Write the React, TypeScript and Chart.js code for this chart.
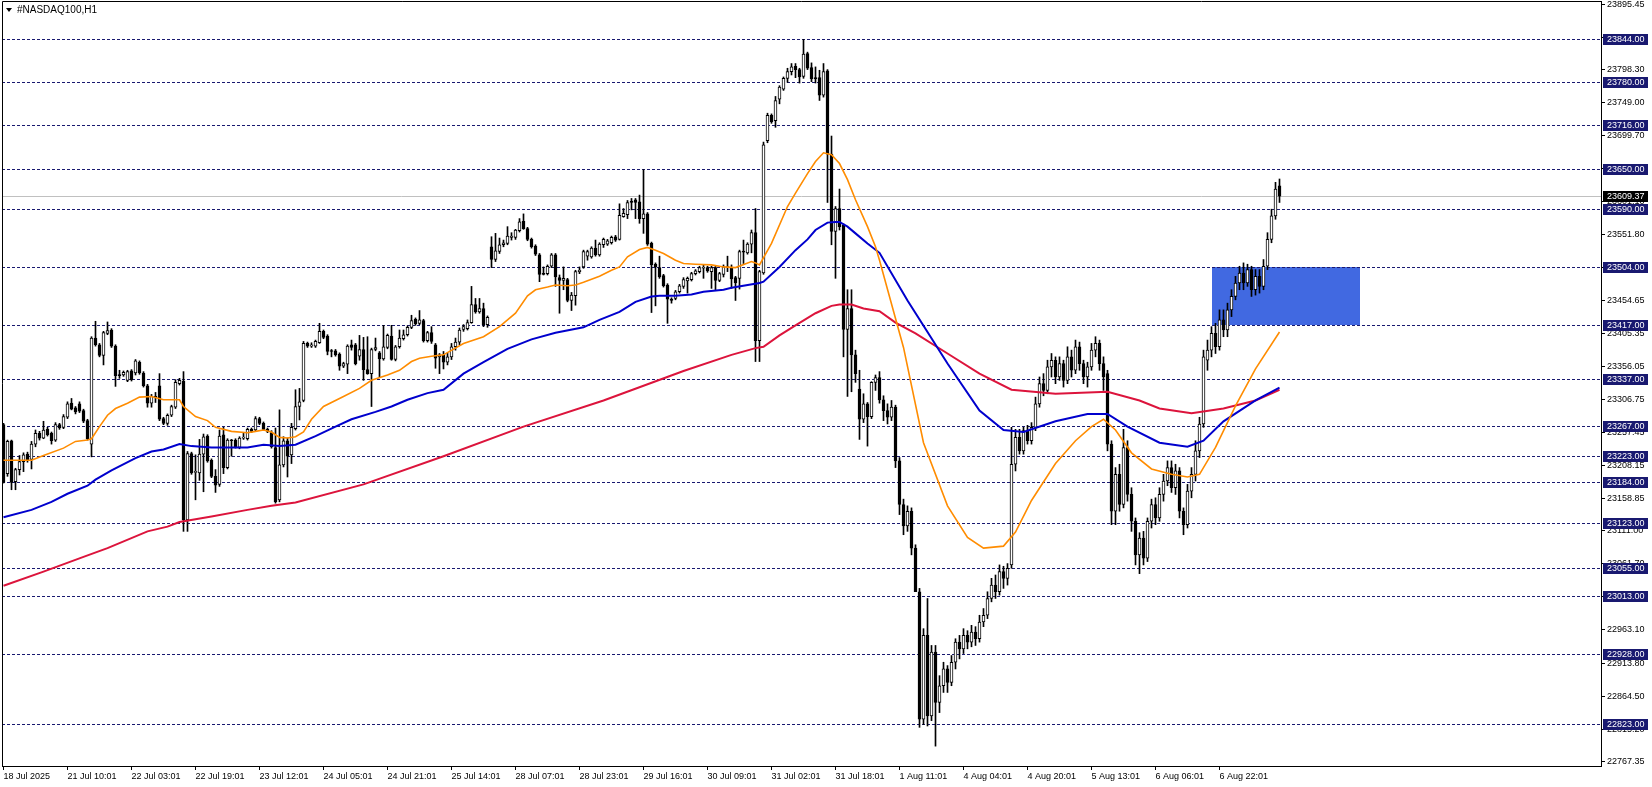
import React, { useEffect, useRef } from 'react';
import { Chart, registerables } from 'chart.js';
Chart.register(...registerables);

// ---------- DATA ----------
const opens = [
23269,23196,23245,23184,23202,23214,23225,23217,23240,23256,
23249,23262,23256,23246,23269,23265,23280,23301,23294,23300,
23290,23275,23240,23398,23388,23372,23405,23410,23386,23343,
23343,23335,23349,23346,23362,23346,23327,23301,23311,23327,
23278,23271,23283,23295,23330,23334,23127,23226,23198,23197,
23225,23252,23216,23192,23180,23254,23205,23246,23246,23235,
23249,23248,23262,23261,23278,23271,23262,23257,23235,23157,
23209,23245,23224,23263,23296,23305,23390,23386,23386,23391,
23408,23401,23379,23379,23374,23356,23359,23388,23388,23371,
23381,23351,23345,23381,23376,23367,23384,23401,23366,23385,
23397,23403,23414,23426,23420,23424,23394,23406,23388,23370,
23373,23362,23370,23385,23392,23411,23412,23421,23448,23437,
23442,23418,23534,23515,23527,23537,23539,23548,23548,23558,
23572,23561,23545,23535,23522,23494,23494,23505,23522,23488,
23484,23485,23454,23461,23497,23504,23520,23519,23532,23522,
23537,23538,23540,23549,23545,23579,23582,23602,23604,23601,
23576,23583,23539,23508,23503,23491,23477,23456,23457,23467,
23475,23483,23485,23494,23497,23502,23503,23497,23503,23484,
23493,23504,23503,23488,23487,23527,23525,23538,23555,23394,
23495,23692,23730,23722,23754,23769,23785,23795,23803,23798,
23788,23822,23801,23786,23786,23760,23796,23672,23557,23591,
23566,23411,23442,23373,23322,23277,23300,23281,23332,23339,
23306,23290,23280,23295,23215,23150,23118,23140,23085,23020,
22830,22955,22835,22930,22855,22880,22905,22885,22915,22945,
22935,22955,22945,22960,22950,22975,22985,23010,23030,23020,
23050,23040,23060,23210,23250,23230,23260,23245,23265,23300,
23330,23320,23355,23365,23340,23360,23335,23370,23350,23385,
23360,23340,23355,23380,23390,23360,23345,23240,23140,23195,
23150,23235,23165,23125,23075,23100,23070,23125,23150,23130,
23165,23185,23205,23175,23200,23140,23120,23170,23195,23230,
23270,23365,23380,23405,23385,23425,23410,23440,23460,23480,
23495,23480,23500,23470,23490,23475,23505,23545,23580,23625
];
const highs = [
23271,23246,23246,23204,23223,23227,23228,23244,23261,23259,
23274,23265,23258,23272,23271,23284,23303,23308,23296,23303,
23292,23277,23400,23423,23390,23408,23422,23412,23388,23350,
23349,23350,23351,23366,23364,23348,23329,23314,23317,23345,
23280,23285,23298,23336,23338,23348,23229,23228,23224,23247,
23255,23254,23218,23202,23261,23265,23248,23247,23248,23251,
23256,23264,23264,23281,23280,23273,23264,23260,23264,23291,
23251,23249,23271,23321,23323,23393,23392,23391,23395,23420,
23410,23403,23381,23381,23376,23362,23388,23395,23390,23402,
23399,23400,23383,23398,23378,23417,23404,23417,23387,23410,
23410,23416,23432,23428,23439,23426,23408,23415,23390,23375,
23378,23376,23390,23398,23413,23418,23425,23475,23457,23457,
23450,23431,23549,23554,23547,23544,23564,23555,23560,23576,
23583,23563,23547,23537,23524,23504,23507,23524,23524,23492,
23504,23487,23466,23499,23504,23529,23529,23534,23544,23540,
23547,23545,23550,23551,23598,23591,23603,23606,23606,23611,
23649,23585,23541,23510,23520,23493,23479,23458,23469,23478,
23488,23489,23496,23500,23505,23507,23505,23505,23505,23496,
23507,23520,23507,23490,23529,23544,23540,23559,23591,23499,
23690,23733,23732,23758,23774,23787,23800,23807,23807,23800,
23843,23824,23808,23802,23797,23807,23798,23699,23594,23620,
23568,23470,23470,23380,23350,23315,23302,23333,23343,23348,
23312,23300,23305,23298,23220,23158,23148,23145,23090,23025,
22965,23010,22940,22940,22895,22915,22910,22925,22950,22955,
22965,22962,22970,22968,22985,22995,23020,23040,23045,23060,
23058,23062,23265,23262,23262,23265,23268,23272,23310,23340,
23345,23365,23375,23370,23370,23365,23385,23380,23395,23392,
23365,23362,23390,23400,23395,23370,23350,23245,23205,23210,
23262,23245,23175,23130,23108,23110,23130,23158,23160,23175,
23195,23215,23215,23210,23205,23145,23180,23205,23245,23280,
23380,23395,23415,23420,23440,23440,23450,23470,23490,23505,
23510,23508,23505,23500,23500,23515,23555,23590,23630,23635
];
const lows = [
23182,23192,23172,23172,23194,23199,23213,23203,23236,23246,
23248,23252,23240,23244,23262,23263,23278,23291,23285,23287,
23272,23246,23221,23386,23370,23358,23403,23384,23326,23338,
23341,23333,23334,23343,23344,23325,23295,23295,23302,23275,
23269,23268,23281,23293,23328,23110,23110,23195,23157,23186,
23169,23213,23190,23168,23177,23196,23203,23222,23234,23233,
23247,23246,23257,23259,23269,23260,23257,23234,23152,23154,
23206,23191,23211,23261,23276,23303,23384,23384,23384,23390,
23397,23373,23370,23371,23350,23354,23345,23380,23358,23365,
23335,23344,23296,23379,23340,23365,23382,23365,23364,23383,
23395,23401,23412,23417,23418,23392,23392,23390,23353,23345,
23352,23358,23366,23380,23388,23408,23410,23420,23435,23435,
23415,23414,23503,23512,23524,23534,23537,23544,23545,23556,
23560,23543,23532,23521,23482,23492,23492,23503,23475,23435,
23470,23452,23439,23447,23494,23502,23514,23517,23520,23520,
23533,23536,23538,23542,23544,23578,23576,23589,23576,23569,
23554,23536,23436,23446,23487,23474,23420,23450,23455,23465,
23472,23465,23483,23492,23495,23487,23496,23472,23470,23482,
23489,23497,23472,23454,23471,23509,23523,23525,23363,23363,
23493,23689,23718,23712,23747,23767,23779,23790,23786,23778,
23785,23798,23780,23778,23752,23757,23600,23537,23487,23559,
23370,23311,23318,23332,23247,23272,23237,23278,23320,23301,
23275,23270,23275,23205,23135,23105,23110,23075,23040,22818,
22822,22820,22828,22790,22840,22870,22870,22880,22905,22920,
22928,22935,22938,22940,22945,22968,22980,23005,23010,23015,
23025,23030,23055,23200,23225,23225,23240,23240,23260,23295,
23312,23315,23340,23330,23335,23325,23330,23340,23345,23350,
23330,23325,23350,23370,23350,23320,23230,23120,23120,23140,
23145,23155,23110,23060,23047,23060,23065,23115,23120,23125,
23155,23178,23168,23165,23130,23105,23115,23160,23185,23220,
23265,23350,23370,23375,23380,23400,23400,23430,23455,23470,
23470,23475,23460,23462,23465,23470,23500,23540,23575,23600
];
const closes = [
23183,23244,23183,23202,23214,23224,23216,23240,23256,23249,
23261,23254,23245,23269,23264,23281,23300,23292,23288,23289,
23274,23248,23398,23388,23372,23406,23409,23386,23342,23342,
23347,23348,23336,23364,23346,23327,23301,23311,23309,23277,
23271,23283,23296,23332,23335,23127,23226,23197,23198,23225,
23251,23215,23192,23179,23252,23205,23246,23245,23236,23249,
23250,23262,23259,23278,23271,23262,23259,23236,23154,23209,
23245,23222,23265,23296,23303,23390,23386,23388,23393,23408,
23399,23378,23378,23373,23356,23360,23386,23384,23360,23381,
23351,23345,23381,23384,23367,23385,23402,23366,23385,23398,
23403,23414,23424,23419,23425,23394,23406,23393,23368,23373,
23362,23370,23385,23392,23410,23415,23421,23448,23437,23442,
23418,23429,23515,23528,23537,23540,23550,23550,23559,23571,
23561,23545,23534,23523,23493,23493,23505,23522,23489,23484,
23487,23454,23462,23497,23499,23527,23527,23532,23522,23538,
23545,23543,23548,23544,23581,23584,23600,23600,23600,23576,
23583,23538,23507,23504,23489,23476,23456,23454,23467,23476,
23485,23487,23494,23498,23503,23502,23498,23503,23484,23494,
23504,23503,23486,23480,23527,23526,23538,23555,23394,23497,
23686,23730,23720,23752,23772,23785,23795,23802,23798,23787,
23821,23800,23784,23784,23760,23795,23672,23557,23591,23564,
23411,23442,23373,23345,23277,23300,23281,23332,23339,23306,
23290,23280,23295,23215,23150,23118,23140,23085,23020,22830,
22955,22835,22930,22855,22880,22905,22885,22915,22945,22935,
22955,22945,22960,22950,22975,22985,23010,23030,23020,23050,
23040,23055,23210,23250,23230,23260,23245,23265,23300,23330,
23320,23355,23365,23340,23360,23335,23370,23350,23385,23360,
23340,23355,23380,23390,23360,23340,23240,23140,23195,23150,
23235,23165,23125,23075,23100,23070,23125,23150,23130,23165,
23185,23205,23175,23200,23140,23120,23170,23195,23230,23270,
23370,23380,23405,23385,23425,23410,23440,23460,23480,23495,
23480,23500,23470,23490,23475,23505,23545,23580,23620,23609.37
];

const maFastBars = [0,7,10,15,18,21,22,24,26,28,31,34,37,40,44,45,48,51,53,57,61,63,65,67,69,71,73,75,77,80,85,89,92,96,99,102,104,107,110,115,120,124,128,131,133,136,138,141,143,145,149,152,154,156,159,161,163,165,168,170,173,177,180,183,187,188,189,192,196,198,201,203,205,207,209,211,213,216,218,219,225,230,236,241,245,250,253,257,263,268,272,275,278,282,287,292,296,299,303,308,313,319];
const maFastVals = [23216,23216,23223,23234,23244,23246,23248,23266,23283,23293,23301,23310,23311,23306,23306,23296,23281,23275,23265,23259,23257,23259,23261,23258,23250,23249,23251,23258,23277,23296,23311,23323,23335,23343,23350,23363,23368,23371,23373,23390,23400,23415,23435,23461,23470,23474,23477,23476,23477,23481,23490,23499,23504,23519,23530,23533,23529,23524,23514,23509,23508,23507,23504,23503,23512,23510,23507,23539,23594,23614,23643,23661,23674,23671,23658,23634,23604,23564,23534,23514,23384,23242,23148,23101,23085,23088,23109,23156,23211,23245,23266,23277,23261,23227,23203,23195,23191,23195,23235,23297,23352,23407];
const maMidBars = [0,7,12,16,21,23,27,33,37,40,44,47,52,61,65,69,73,78,83,87,93,97,101,106,110,115,120,126,132,138,145,149,154,158,162,164,168,172,175,180,182,189,190,194,198,201,203,206,208,209,211,213,216,219,226,236,244,250,255,263,271,276,281,289,296,300,305,313,319];
const maMidVals = [23131,23142,23154,23166,23178,23187,23201,23219,23229,23232,23240,23237,23235,23235,23239,23237,23239,23252,23266,23277,23288,23296,23306,23316,23321,23345,23362,23382,23396,23406,23414,23425,23437,23452,23460,23461,23461,23463,23467,23470,23473,23480,23482,23504,23529,23545,23559,23570,23571,23571,23564,23554,23539,23525,23454,23360,23290,23261,23258,23274,23285,23285,23266,23242,23236,23245,23274,23305,23324];
const maSlowBars = [0,10,20,26,36,41,44,52,61,67,73,90,110,130,150,170,182,188,190,194,198,203,207,209,212,215,219,223,228,236,244,252,263,276,284,289,297,305,313,319];
const maSlowVals = [23029,23050,23072,23085,23110,23117,23124,23132,23142,23148,23153,23180,23222,23266,23305,23349,23373,23383,23385,23402,23417,23435,23446,23448,23448,23442,23438,23421,23405,23375,23345,23321,23315,23318,23305,23293,23286,23293,23305,23321];

const levels = [23844,23780,23716,23650,23590,23504,23417,23337,23267,23223,23184,23123,23055,23013,22928,22823];
const currentPrice = 23609.37;
const zoneBars = [302, 339];
const zonePrices = [23417, 23504];

const yTickValues = [23895.45,23846.15,23798.30,23749.00,23699.70,23650.40,23601.10,23551.80,23502.50,23454.65,23405.35,23356.05,23306.75,23257.45,23208.15,23158.85,23111.00,23061.70,23012.40,22963.10,22913.80,22864.50,22815.20,22767.35];
const xTickBars = [0,16,32,48,64,80,96,112,128,144,160,176,192,208,224,240,256,272,288,304];
const xTickLabels = ['18 Jul 2025','21 Jul 10:01','22 Jul 03:01','22 Jul 19:01','23 Jul 12:01','24 Jul 05:01','24 Jul 21:01','25 Jul 14:01','28 Jul 07:01','28 Jul 23:01','29 Jul 16:01','30 Jul 09:01','31 Jul 02:01','31 Jul 18:01','1 Aug 11:01','4 Aug 04:01','4 Aug 20:01','5 Aug 13:01','6 Aug 06:01','6 Aug 22:01'];
const symbolTitle = '#NASDAQ100,H1';

// ---------- CHART ----------
const FONT = "'Liberation Sans', Arial, sans-serif";
const NAVY = '#191970';

const overlay = {
  id: 'overlay',
  beforeDatasetsDraw(chart: any) {
    const { ctx, chartArea: a, scales } = chart;
    const x = scales.x, y = scales.y;
    ctx.save();
    const zx0 = x.getPixelForValue(zoneBars[0]);
    const zx1 = x.getPixelForValue(zoneBars[1]);
    const zy0 = y.getPixelForValue(zonePrices[1]);
    const zy1 = y.getPixelForValue(zonePrices[0]);
    ctx.fillStyle = '#4169E1';
    ctx.fillRect(Math.round(zx0), Math.round(zy0), Math.round(zx1 - zx0), Math.round(zy1 - zy0));
    ctx.strokeStyle = '#C0C0C0';
    ctx.lineWidth = 1;
    const cp = Math.round(y.getPixelForValue(currentPrice)) + 0.5;
    ctx.beginPath(); ctx.moveTo(a.left, cp); ctx.lineTo(a.right, cp); ctx.stroke();
    ctx.strokeStyle = NAVY;
    ctx.setLineDash([3, 2]);
    for (const l of levels) {
      const py = Math.round(y.getPixelForValue(l)) + 0.5;
      ctx.beginPath(); ctx.moveTo(a.left, py); ctx.lineTo(a.right, py); ctx.stroke();
    }
    ctx.restore();
  },
  afterDraw(chart: any) {
    const { ctx, chartArea: a, scales } = chart;
    const y = scales.y;
    ctx.save();
    ctx.strokeStyle = '#000';
    ctx.lineWidth = 1;
    ctx.beginPath();
    ctx.moveTo(a.left + 0.5, a.bottom); ctx.lineTo(a.left + 0.5, a.top + 0.5); ctx.lineTo(a.right, a.top + 0.5);
    ctx.stroke();
    ctx.font = `9px ${FONT}`;
    ctx.textBaseline = 'middle';
    ctx.textAlign = 'left';
    const boxL = a.right + 2, boxW = 45, boxH = 11;
    for (const l of levels) {
      const py = Math.round(y.getPixelForValue(l));
      ctx.fillStyle = NAVY;
      ctx.fillRect(boxL, py - 5, boxW, boxH);
      ctx.fillStyle = '#fff';
      ctx.fillText(l.toFixed(2), boxL + 4, py + 0.5);
    }
    const cp = Math.round(y.getPixelForValue(currentPrice));
    ctx.fillStyle = '#000';
    ctx.fillRect(boxL, cp - 5, boxW, boxH);
    ctx.fillStyle = '#fff';
    ctx.fillText(currentPrice.toFixed(2), boxL + 4, cp + 0.5);
    ctx.fillStyle = '#000';
    ctx.beginPath();
    ctx.moveTo(6, 8); ctx.lineTo(12, 8); ctx.lineTo(9, 12); ctx.closePath(); ctx.fill();
    ctx.font = `10px ${FONT}`;
    ctx.fillText(symbolTitle, 17, 10.5);
    ctx.restore();
  },
};

export default function App() {
  const ref = useRef<HTMLCanvasElement>(null);
  useEffect(() => {
    const idx = opens.map((_, i) => i);
    const bodies = idx.map((i) => ({ x: i, y: [opens[i], closes[i]] }));
    const wicks = idx.map((i) => ({ x: i, y: [lows[i], highs[i]] }));
    const isUp = (i: number) => closes[i] >= opens[i];
    const line = (bars: number[], vals: number[]) => bars.map((b, k) => ({ x: b, y: vals[k] }));

    const chart = new Chart(ref.current as HTMLCanvasElement, {
      type: 'bar',
      data: {
        datasets: [
          {
            type: 'line', data: line(maFastBars, maFastVals), borderColor: '#FF8C00', borderWidth: 1.6,
            pointRadius: 0, fill: false, tension: 0, order: 0,
          } as any,
          {
            type: 'line', data: line(maMidBars, maMidVals), borderColor: '#0000CD', borderWidth: 2,
            pointRadius: 0, fill: false, tension: 0, order: 0,
          } as any,
          {
            type: 'line', data: line(maSlowBars, maSlowVals), borderColor: '#DC143C', borderWidth: 2,
            pointRadius: 0, fill: false, tension: 0, order: 0,
          } as any,
          {
            type: 'bar', data: bodies as any, grouped: false, barThickness: 3, minBarLength: 1,
            backgroundColor: (c: any) => (isUp(c.dataIndex) ? '#ffffff' : '#000000'),
            borderColor: '#000000', borderWidth: 1, borderSkipped: false, order: 2,
          } as any,
          {
            type: 'bar', data: wicks as any, grouped: false, barThickness: 1,
            backgroundColor: '#000000', borderWidth: 0, order: 3,
          } as any,
        ],
      },
      options: {
        responsive: false,
        devicePixelRatio: 1,
        animation: false,
        events: [],
        layout: { padding: { left: 2, top: 1, right: 0, bottom: 0 } },
        plugins: { legend: { display: false }, tooltip: { enabled: false }, title: { display: false } },
        scales: {
          x: {
            type: 'linear',
            min: -0.375,
            max: -0.375 + 1599 / 4,
            offset: false,
            grid: { display: true, drawOnChartArea: false, drawTicks: true, tickLength: 4, color: '#000', offset: false },
            border: { display: true, color: '#000' },
            afterBuildTicks: (s: any) => { s.ticks = xTickBars.map((v) => ({ value: v })); },
            afterFit: (s: any) => { s.height = 21; s.paddingLeft = 0; s.paddingRight = 0; },
            ticks: {
              autoSkip: false, maxRotation: 0, minRotation: 0, align: 'start', padding: 1,
              color: '#000', font: { family: FONT, size: 9 },
              callback: (v: any) => { const k = xTickBars.indexOf(Number(v)); return k >= 0 ? xTickLabels[k] : ''; },
            },
          },
          y: {
            type: 'linear',
            position: 'right',
            min: 22760.4,
            max: 23900.2,
            grid: { display: true, drawOnChartArea: false, drawTicks: true, tickLength: 4, color: '#000' },
            border: { display: true, color: '#000' },
            afterBuildTicks: (s: any) => { s.ticks = yTickValues.map((v) => ({ value: v })); },
            afterFit: (s: any) => { s.width = 51; s.paddingTop = 0; s.paddingBottom = 0; },
            ticks: {
              autoSkip: false, padding: 2, color: '#000', font: { family: FONT, size: 9 },
              callback: (v: any) => Number(v).toFixed(2),
            },
          },
        },
      } as any,
      plugins: [overlay],
    });
    return () => chart.destroy();
  }, []);

  return (
    <div style={{ position: 'fixed', left: 0, top: 0, width: 1652, height: 787, background: '#fff' }}>
      <canvas ref={ref} width={1652} height={787} style={{ display: 'block' }} />
    </div>
  );
}
